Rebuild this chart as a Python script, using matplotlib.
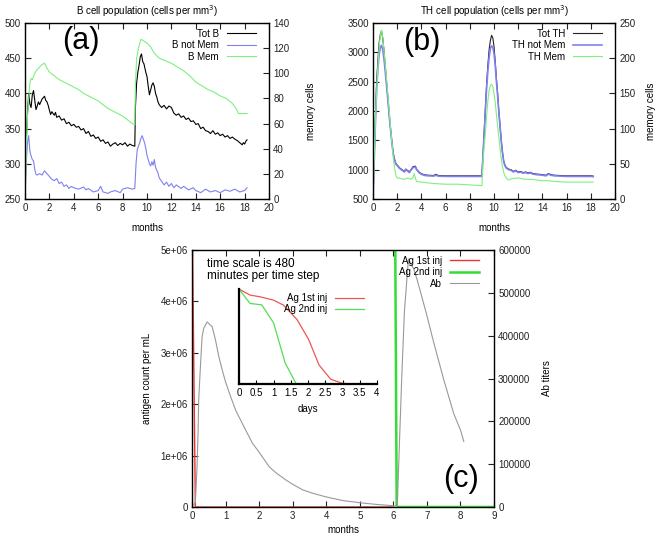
import matplotlib
matplotlib.use("Agg")
import matplotlib.pyplot as plt

plt.rcParams['font.family'] = ['Liberation Sans', 'DejaVu Sans']
plt.rcParams['font.size'] = 7

# ---- panel (a): B cells ----
totb_m = [0.0, 0.1, 0.2, 0.3, 0.4, 0.5, 0.6, 0.7, 0.8, 0.9, 1.0, 1.1, 1.2, 1.4, 1.6, 1.7, 1.8, 1.9,
          2.0, 2.1, 2.2, 2.4, 2.5, 2.6, 2.8, 3.0, 3.2, 3.4, 3.6, 3.8, 4.0, 4.2, 4.4, 4.6, 4.8,
          5.0, 5.2, 5.4, 5.6, 5.8, 6.0, 6.2, 6.4, 6.6, 6.8, 7.0, 7.2, 7.4, 7.6, 7.8, 8.0, 8.2,
          8.4, 8.6, 8.8, 9.0, 9.05, 9.15, 9.25, 9.35, 9.45, 9.55, 9.65, 9.75, 9.9, 10.0, 10.1,
          10.2, 10.3, 10.4, 10.5, 10.6, 10.7, 10.8, 10.9, 11.0, 11.2, 11.4, 11.6, 11.8, 12.0,
          12.2, 12.4, 12.6, 12.8, 13.0, 13.2, 13.4, 13.6, 13.8, 14.0, 14.2, 14.4, 14.6, 14.8,
          15.0, 15.2, 15.4, 15.6, 15.8, 16.0, 16.2, 16.4, 16.6, 16.8, 17.0, 17.2, 17.4, 17.6,
          17.8, 17.9, 18.0, 18.1, 18.2]
totb = [250, 330, 370, 400, 385, 380, 398, 404, 390, 377, 382, 388, 384, 392, 396, 390, 388, 383,
        376, 370, 374, 369, 373, 366, 368, 362, 364, 357, 359, 354, 356, 352, 353, 348, 350,
        343, 346, 339, 341, 336, 338, 332, 334, 329, 331, 325, 328, 330, 326, 329, 327, 330,
        325, 328, 326, 325, 380, 415, 430, 440, 452, 456, 445, 442, 430, 424, 410,
        398, 405, 412, 415, 410, 400, 395, 388, 384, 380, 383, 378, 382, 380,
        372, 369, 371, 366, 368, 363, 365, 360, 361, 356, 357, 350, 352, 347,
        346, 343, 347, 342, 344, 340, 342, 338, 340, 336, 338, 335, 333, 330,
        327, 330, 328, 332, 334]

bnm_m = [0.0, 0.1, 0.2, 0.3, 0.4, 0.5, 0.6, 0.7, 0.8, 0.9, 1.0, 1.2, 1.4, 1.6, 1.8, 2.0, 2.2, 2.4,
         2.6, 2.8, 3.0, 3.2, 3.4, 3.6, 3.8, 4.0, 4.4, 4.8, 5.0, 5.2, 5.6, 6.0, 6.2, 6.4, 6.8, 7.0,
         7.4, 7.8, 8.0, 8.4, 8.8, 9.0, 9.1, 9.2, 9.4, 9.5, 9.6, 9.7, 9.8, 9.9, 10.0, 10.2, 10.3,
         10.4, 10.5, 10.6, 10.7, 10.9, 11.0, 11.2, 11.4, 11.6, 11.8, 12.0, 12.2, 12.4, 12.8, 13.0,
         13.4, 13.8, 14.0, 14.4, 14.8, 15.2, 15.6, 16.0, 16.4, 16.8, 17.2, 17.6, 18.0, 18.2]
bnm = [250, 300, 330, 340, 318, 311, 306, 304, 292, 285, 284, 286, 284, 290, 286, 282, 278, 276,
       279, 272, 274, 268, 270, 265, 268, 266, 264, 267, 263, 265, 260, 262, 268, 260, 258, 260,
       262, 259, 264, 266, 264, 265, 300, 320, 330, 336, 340, 335, 330, 322, 312, 300, 297,
       303, 298, 306, 295, 287, 280, 275, 270, 274, 268, 272, 266, 270, 265, 268,
       263, 266, 262, 259, 264, 260, 262, 259, 263, 261, 264, 260, 262, 266]

bmem_m = [0.0, 0.1, 0.2, 0.3, 0.4, 0.5, 0.6, 0.8, 1.0, 1.2, 1.4, 1.6, 1.8, 2.0, 2.4, 2.8, 3.2, 3.6,
          4.0, 4.4, 4.8, 5.2, 5.6, 6.0, 6.4, 6.8, 7.2, 7.6, 8.0, 8.4, 8.8, 9.0, 9.05, 9.15, 9.3,
          9.5, 9.7, 10.0, 10.3, 10.6, 11.0, 11.5, 12.0, 12.5, 13.0, 13.5, 14.0, 14.5, 15.0, 15.5,
          16.0, 16.5, 17.0, 17.3, 17.5, 18.2]
bmem = [0, 40, 65, 80, 92, 96, 95, 100, 103, 105, 107, 108, 104, 101, 98, 95, 93, 91,
        89, 87, 84, 82, 80, 78, 75, 72, 70, 68, 66, 63, 60, 59, 90, 112, 120,
        127, 126, 124, 121, 116, 112, 110, 108, 105, 102, 98, 93, 90, 87, 85,
        82, 80, 76, 72, 68, 68]

# ---- panel (b): TH cells ----
th_m = [0.0, 0.1, 0.2, 0.3, 0.4, 0.5, 0.6, 0.7, 0.8, 0.9, 1.0, 1.1, 1.2, 1.3, 1.4, 1.5, 1.6, 1.7,
        1.8, 1.9, 2.0, 2.2, 2.4, 2.6, 2.7, 2.9, 3.0, 3.1, 3.3, 3.5, 3.6, 3.8, 4.0, 4.3, 4.6, 5.0,
        5.2, 5.4, 6.0, 7.0, 8.0, 9.0, 9.1, 9.2, 9.3, 9.4, 9.5, 9.6, 9.7, 9.8, 9.9, 10.0, 10.1,
        10.2, 10.3, 10.4, 10.5, 10.6, 10.7, 10.8, 10.9, 11.0, 11.2, 11.4, 11.6, 11.8, 12.0,
        12.2, 12.4, 12.6, 12.8, 13.0, 13.2, 13.5, 13.8, 14.0, 14.3, 14.5, 14.7, 15.0, 15.5,
        16.0, 17.0, 18.0, 18.2]
tot_th = [500, 1200, 1900, 2500, 2850, 3150, 3300, 3370, 3250, 3050, 2800, 2550, 2300, 2050, 1800,
          1600, 1400, 1250, 1160, 1100, 1080, 1030, 1000, 970, 1010, 980, 960, 990, 1050, 1060,
          1010, 960, 930, 910, 905, 900, 920, 900, 895, 895, 895, 895, 1300, 1700, 2100, 2500,
          2800, 3050, 3200, 3290, 3250, 3100, 2850, 2550, 2300, 2000, 1750, 1500, 1300, 1150,
          1080, 1040, 1010, 1000, 970, 990, 960, 970, 950, 960, 945, 955, 935, 925, 920, 915,
          905, 935, 915, 905, 900, 895, 895, 895, 890]
th_notmem = [500, 1150, 1800, 2350, 2700, 2950, 3080, 3120, 3050, 2900, 2700, 2480, 2250, 2020,
             1780, 1580, 1390, 1240, 1150, 1090, 1070, 1020, 990, 960, 1000, 970, 950, 980, 1035,
             1045, 1000, 950, 920, 900, 895, 890, 905, 890, 885, 885, 885, 885, 1280, 1650, 2050,
             2420, 2700, 2920, 3060, 3110, 3090, 2980, 2780, 2500, 2260, 1980, 1730, 1490, 1290,
             1140, 1070, 1030, 1000, 990, 960, 980, 950, 960, 940, 950, 935, 945, 925, 915, 910,
             905, 895, 925, 905, 895, 890, 885, 885, 885, 880]

thmem_m = [0.0, 0.1, 0.2, 0.3, 0.4, 0.5, 0.6, 0.7, 0.8, 0.9, 1.0, 1.1, 1.2, 1.3, 1.4, 1.5, 1.6,
           1.7, 1.8, 1.9, 2.0, 2.3, 2.6, 2.9, 3.1, 3.3, 3.4, 3.5, 3.6, 4.0, 4.5, 5.0, 6.0, 7.0,
           8.0, 9.0, 9.1, 9.2, 9.3, 9.4, 9.5, 9.6, 9.7, 9.8, 9.9, 10.0, 10.1, 10.2, 10.3, 10.4,
           10.5, 10.6, 10.7, 10.8, 10.9, 11.0, 11.2, 11.5, 12.0, 12.5, 13.0, 13.5, 14.0, 14.5,
           15.0, 16.0, 17.0, 18.2]
thmem = [0, 60, 110, 150, 185, 215, 232, 240, 230, 212, 195, 175, 155, 135, 112, 92, 72,
         55, 42, 33, 30, 29, 28, 30, 28, 30, 36, 30, 25, 24, 23, 22, 21, 21,
         20, 19, 55, 78, 95, 120, 140, 155, 161, 163, 160, 150, 138, 120, 103, 88,
         72, 58, 46, 38, 33, 30, 27, 29, 30, 28, 28, 27, 26, 26,
         25, 24, 24, 24]

# ---- panel (c): antigen and antibodies ----
ag1_m = [0.0, 0.1, 6.0]
ag1 = [6.0e6, 0, 0]
ag2_m = [6.05, 6.1, 9.0]
ag2 = [6.0e6, 0, 0]
ab_m = [0.0, 0.1, 0.15, 0.18, 0.2, 0.25, 0.3, 0.35, 0.45, 0.6, 0.7, 0.8, 0.9, 1.0, 1.15, 1.3,
        1.5, 1.8, 2.0, 2.3, 2.5, 2.8, 3.0, 3.3, 3.6, 4.0, 4.5, 5.0, 5.5, 6.0, 6.1, 6.12, 6.18,
        6.25, 6.33, 6.45, 6.6, 6.7, 6.8, 7.0, 7.2, 7.5, 7.8, 8.0, 8.1]
ab = [0, 10000, 94000, 172000, 250000, 327000, 397000, 417000, 432000, 421000, 390000, 351000,
      320000, 292000, 258000, 226000, 195000, 149000, 128000, 94000, 80000, 63000, 53000, 40000,
      32000, 23500, 15000, 10000, 6000, 3000, 2000, 5000, 145000, 301000, 456000, 579000, 557000,
      533000, 505000, 447000, 385000, 298000, 218000, 180000, 153000]

# inset: antigen clearance in days
in_days1 = [0, 0.32, 0.61, 1.0, 1.29, 1.68, 2.02, 2.32, 2.66, 3.0, 3.3]
in_ag1 = [1.0, 0.936, 0.918, 0.883, 0.83, 0.68, 0.468, 0.20, 0.05, 0.007, 0.0]
in_days2 = [0, 0.32, 0.66, 1.0, 1.34, 1.66]
in_ag2 = [1.0, 0.848, 0.833, 0.645, 0.22, 0.0]

W, H = 661, 536
fig = plt.figure(figsize=(W / 100, H / 100), dpi=100)


def px_axes(l, t, r, b):
    return fig.add_axes([l / W, 1 - b / H, (r - l) / W, (b - t) / H])


def style(ax, right=None):
    for s in ax.spines.values():
        s.set_color('#333333')
        s.set_linewidth(1.0)
    ax.tick_params(direction='in', length=4, width=0.8, top=True, right=right is None,
                   labelsize=7, pad=3, colors='#222222')
    if right is not None:
        right.tick_params(direction='in', length=4, width=0.8, labelsize=7, pad=3, colors='#222222')


BLUE = '#8080f0'
GREEN = '#7ef07e'

# (a)
axa = px_axes(25, 23, 269, 199)
axa2 = axa.twinx()
la, = axa.plot(totb_m, totb, color='black', lw=0.8, label='Tot B')
lb, = axa.plot(bnm_m, bnm, color=BLUE, lw=0.8, label='B not Mem')
lc, = axa2.plot(bmem_m, bmem, color=GREEN, lw=0.8, label='B Mem')
axa.set_xlim(0, 20)
axa.set_ylim(250, 500)
axa2.set_ylim(0, 140)
axa.set_xticks(range(0, 21, 2))
axa.set_yticks(range(250, 501, 50))
axa2.set_yticks(range(0, 141, 20))
style(axa, axa2)
axa.set_title('B cell population (cells per mm$^3$)', fontsize=7, pad=6)
axa.set_xlabel('months', fontsize=7, labelpad=7)
axa2.set_ylabel('memory cells', fontsize=7, labelpad=12)
axa2.legend(handles=[la, lb, lc], loc='upper right', bbox_to_anchor=(0.97, 1.0), frameon=False,
            markerfirst=False, fontsize=7, handlelength=3.0, labelspacing=0.15, borderaxespad=0.2)
axa.text(0.23, 0.9, '(a)', transform=axa.transAxes, fontsize=22, ha='center', va='center')

# (b)
axb = px_axes(373, 23, 615, 199)
axb2 = axb.twinx()
ma, = axb.plot(th_m, tot_th, color='#222222', lw=0.8, label='Tot TH')
mb, = axb.plot(th_m, th_notmem, color=BLUE, lw=1.2, label='TH not Mem')
mc, = axb2.plot(thmem_m, thmem, color=GREEN, lw=0.8, label='TH Mem')
axb.set_xlim(0, 20)
axb.set_ylim(500, 3500)
axb2.set_ylim(0, 250)
axb.set_xticks(range(0, 21, 2))
axb.set_yticks(range(500, 3501, 500))
axb2.set_yticks(range(0, 251, 50))
style(axb, axb2)
axb.set_title('TH cell population (cells per mm$^3$)', fontsize=7, pad=6)
axb.set_xlabel('months', fontsize=7, labelpad=7)
axb2.set_ylabel('memory cells', fontsize=7, labelpad=8)
axb2.legend(handles=[ma, mb, mc], loc='upper right', bbox_to_anchor=(0.97, 1.0), frameon=False,
            markerfirst=False, fontsize=7, handlelength=3.0, labelspacing=0.15, borderaxespad=0.2)
axb.text(0.2, 0.89, '(b)', transform=axb.transAxes, fontsize=22, ha='center', va='center')

# (c)
axc = px_axes(192, 250, 494, 507)
axc2 = axc.twinx()
na, = axc.plot(ag1_m, ag1, color='#ee3333', lw=1.0, label='Ag 1st inj')
nb, = axc.plot(ag2_m, ag2, color='#33dd33', lw=1.8, label='Ag 2nd inj')
nc, = axc2.plot(ab_m, ab, color='#999999', lw=0.8, label='Ab')
axc.set_xlim(0, 9)
axc.set_ylim(0, 5e6)
axc2.set_ylim(0, 600000)
axc.set_xticks(range(0, 10))
axc.set_yticks([0, 1e6, 2e6, 3e6, 4e6, 5e6])
axc.set_yticklabels(['0', '1e+06', '2e+06', '3e+06', '4e+06', '5e+06'])
axc2.set_yticks(range(0, 600001, 100000))
style(axc, axc2)
axc.set_xlabel('months', fontsize=7, labelpad=3)
axc.set_ylabel('antigen count per mL', fontsize=7, labelpad=6)
axc2.set_ylabel('Ab titers', fontsize=7, labelpad=8)
axc2.legend(handles=[na, nb, nc], loc='upper right', bbox_to_anchor=(0.97, 1.0), frameon=False,
            markerfirst=False, fontsize=7, handlelength=3.0, labelspacing=0.15, borderaxespad=0.2)
axc.text(0.89, 0.11, '(c)', transform=axc.transAxes, fontsize=22, ha='center', va='center')
axc.text(0.05, 0.97, 'time scale is 480\nminutes per time step', transform=axc.transAxes,
         fontsize=8.5, ha='left', va='top', linespacing=1.0)

# inset
axi = px_axes(239, 289, 377, 384)
pa, = axi.plot(in_days1, in_ag1, color='#ee5555', lw=0.9, label='Ag 1st inj')
pb, = axi.plot(in_days2, in_ag2, color='#55dd55', lw=0.9, label='Ag 2nd inj')
axi.set_xlim(0, 4)
axi.set_ylim(0, 1)
axi.set_xticks([0, 0.5, 1, 1.5, 2, 2.5, 3, 3.5, 4])
axi.set_xticklabels(['0', '0.5', '1', '1.5', '2', '2.5', '3', '3.5', '4'])
axi.set_yticks([])
axi.spines['top'].set_visible(False)
axi.spines['right'].set_visible(False)
axi.spines['left'].set_linewidth(1.6)
axi.spines['bottom'].set_linewidth(1.6)
axi.tick_params(direction='in', length=3, labelsize=7, pad=3)
axi.patch.set_alpha(0)
axi.set_xlabel('days', fontsize=7, labelpad=4)
axi.legend(handles=[pa, pb], loc='upper right', bbox_to_anchor=(0.95, 1.02), frameon=False,
           markerfirst=False, fontsize=7, handlelength=3.0, labelspacing=0.1, borderaxespad=0.2)

fig.savefig('out.png', dpi=100)
